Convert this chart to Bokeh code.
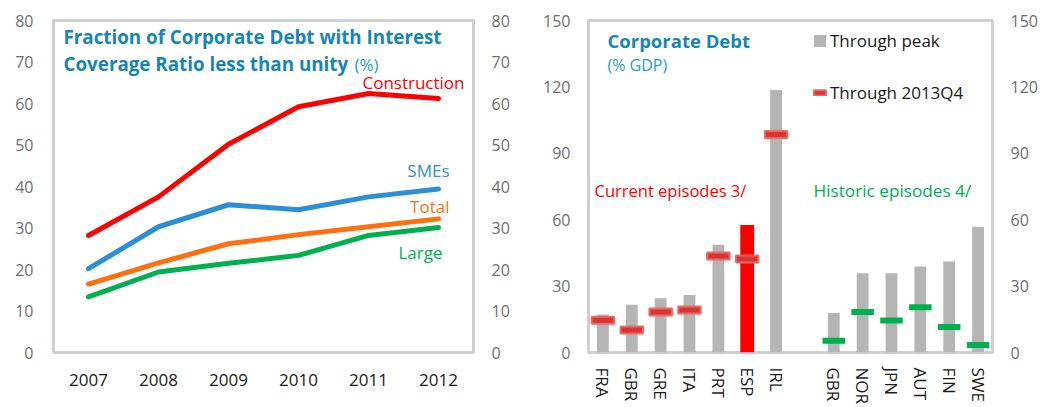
from bokeh.plotting import figure
from bokeh.models import (FactorRange, Range1d, LinearAxis, FixedTicker, Legend,
                          LegendItem, ColumnDataSource)
from bokeh.layouts import row
from bokeh.embed import file_html
from bokeh.resources import INLINE
from bokeh.core.properties import value

# ---------------- data ----------------
years = ["2007", "2008", "2009", "2010", "2011", "2012"]
construction = [28.2, 37.5, 50.2, 59.2, 62.4, 61.2]
smes = [20.2, 30.3, 35.6, 34.4, 37.5, 39.4]
total = [16.5, 21.6, 26.2, 28.4, 30.3, 32.2]
large = [13.4, 19.4, 21.5, 23.4, 28.2, 30.1]

current_countries = ["FRA", "GBR", "GRE", "ITA", "PRT", "ESP", "IRL"]
current_peak = [17.2, 21.6, 24.5, 26.0, 48.7, 57.6, 118.6]
current_2013q4 = [14.6, 10.2, 18.3, 19.2, 43.6, 42.3, 98.5]
historic_countries = ["GBR", "NOR", "JPN", "AUT", "FIN", "SWE"]
historic_peak = [17.9, 35.8, 35.8, 38.8, 41.1, 56.8]
historic_end = [5.3, 18.3, 14.5, 20.4, 11.5, 3.4]
highlight = "ESP"

FONT = "Open Sans"
TICK_GRAY = "#6f6f6f"
TEAL = "#1586b5"
TEAL_LIGHT = "#2a9bd3"
RED = "#ff0000"
BLUE = "#2b8fd8"
ORANGE = "#ff6f0f"
GREEN = "#00b04f"
H = 407


def style_axis(ax, size="16px", color=TICK_GRAY, standoff=18):
    ax.axis_line_color = None
    ax.major_tick_line_color = None
    ax.minor_tick_line_color = None
    ax.major_tick_in = 0
    ax.major_tick_out = 0
    ax.minor_tick_in = 0
    ax.minor_tick_out = 0
    ax.major_label_text_font = FONT
    ax.major_label_text_font_size = size
    ax.major_label_text_color = color
    ax.major_label_standoff = standoff


# ---------------- left chart ----------------
p1 = figure(width=530, height=H, x_range=FactorRange(factors=years),
            y_range=Range1d(0, 80), output_backend="svg", toolbar_location=None,
            min_border_left=53, min_border_right=57, min_border_top=16,
            min_border_bottom=H - 16 - 336)
p1.outline_line_color = "#cfcfcf"
p1.outline_line_width = 3
p1.xgrid.grid_line_color = None
p1.ygrid.grid_line_color = None
p1.yaxis.ticker = FixedTicker(ticks=list(range(0, 81, 10)))
style_axis(p1.yaxis[0], standoff=20)
style_axis(p1.xaxis[0], size="17px", color="#1a1a1a", standoff=21)
r_ax1 = LinearAxis(ticker=FixedTicker(ticks=list(range(0, 81, 10))))
style_axis(r_ax1, standoff=18)
p1.add_layout(r_ax1, "right")

for vals, col in [(construction, RED), (smes, BLUE), (total, ORANGE), (large, GREEN)]:
    p1.line(years, vals, line_width=5, line_color=col, line_cap="round", line_join="round")

series_labels = [("Construction", RED, 65.0, 26), ("SMEs", BLUE, 43.9, 11),
                 ("Total", ORANGE, 35.3, 11), ("Large", GREEN, 24.1, 4)]
for txt, col, yy, xo in series_labels:
    p1.text(x=[years[-1]], y=[yy], text=[txt], x_offset=xo, text_align="right",
            text_baseline="middle", text_color=col, text_font=value(FONT),
            text_font_size="17px")

p1.text(x=[years[0]], y=[76.1], text=["Fraction of Corporate Debt with Interest"],
        x_offset=-25, text_baseline="middle", text_color=TEAL, text_font=value(FONT),
        text_font_size="18.8px", text_font_style="bold")
p1.text(x=[years[0]], y=[69.4], text=["Coverage Ratio less than unity"],
        x_offset=-25, text_baseline="middle", text_color=TEAL, text_font=value(FONT),
        text_font_size="18.8px", text_font_style="bold")
p1.text(x=[years[0]], y=[69.4], text=["(%)"],
        x_offset=266, text_baseline="middle", text_color=TEAL_LIGHT, text_font=value(FONT),
        text_font_size="17px")

# ---------------- right chart ----------------
cur_pos = list(range(len(current_countries)))
his_pos = [len(current_countries) + 1 + i for i in range(len(historic_countries))]
n_slots = len(current_countries) + 1 + len(historic_countries)

p2 = figure(width=510, height=H, x_range=Range1d(-0.5, n_slots - 0.5),
            y_range=Range1d(0, 150), output_backend="svg", toolbar_location=None,
            min_border_left=58, min_border_right=45, min_border_top=20,
            min_border_bottom=H - 20 - 338)
p2.outline_line_color = "#cfcfcf"
p2.outline_line_width = 3
p2.xgrid.grid_line_color = None
p2.ygrid.grid_line_color = None
p2.yaxis.ticker = FixedTicker(ticks=list(range(0, 151, 30)))
style_axis(p2.yaxis[0], standoff=18)
r_ax2 = LinearAxis(ticker=FixedTicker(ticks=list(range(0, 151, 30))))
style_axis(r_ax2, standoff=18)
p2.add_layout(r_ax2, "right")

p2.xaxis.ticker = FixedTicker(ticks=cur_pos + his_pos)
p2.xaxis.major_label_overrides = {p: c for p, c in zip(cur_pos + his_pos,
                                                       current_countries + historic_countries)}
style_axis(p2.xaxis[0], size="17px", color="#1a1a1a", standoff=15)
p2.xaxis.major_label_orientation = "vertical"

all_names = current_countries + historic_countries
bar_src = ColumnDataSource(dict(
    x=cur_pos + his_pos,
    top=current_peak + historic_peak,
    color=[RED if n == highlight and i < len(current_countries) else "#b5b5b5"
           for i, n in enumerate(all_names)],
    w=[0.48 if n == highlight and i < len(current_countries) else 0.41
       for i, n in enumerate(all_names)],
))
bars = p2.vbar(x="x", top="top", width="w", source=bar_src, fill_color="color",
               line_color=None)

red_dash = p2.rect(x=cur_pos, y=current_2013q4, width=0.78, height=7,
                   height_units="screen", fill_color="#d93434", line_color="#ea6a66",
                   line_width=2)
p2.rect(x=his_pos, y=historic_end, width=0.78, height=6, height_units="screen",
        fill_color=GREEN, line_color=None)

p2.text(x=[-0.5], y=[141], text=["Corporate Debt"], x_offset=19, text_baseline="middle",
        text_color=TEAL, text_font=value(FONT), text_font_size="18.5px",
        text_font_style="bold")
p2.text(x=[-0.5], y=[130], text=["(% GDP)"], x_offset=19, text_baseline="middle",
        text_color=TEAL_LIGHT, text_font=value(FONT), text_font_size="16px")
p2.text(x=[-0.5], y=[73.2], text=["Current episodes 3/"], x_offset=6,
        text_baseline="middle", text_color=RED, text_font=value(FONT),
        text_font_size="16.5px")
p2.text(x=[-0.5], y=[73.2], text=["Historic episodes 4/"], x_offset=225,
        text_baseline="middle", text_color="#00b050", text_font=value(FONT),
        text_font_size="17.2px")

leg1 = Legend(items=[LegendItem(label="Through peak", renderers=[bars], index=0)],
              location=(224, 300), glyph_width=15, glyph_height=15, padding=0,
              margin=0, label_standoff=3, border_line_color=None,
              background_fill_alpha=0, label_text_font=FONT,
              label_text_font_size="17px", label_text_color="#1a1a1a")
leg2 = Legend(items=[LegendItem(label="Through 2013Q4", renderers=[red_dash], index=0)],
              location=(224, 248), glyph_width=15, glyph_height=7, padding=0,
              margin=0, label_standoff=3, border_line_color=None,
              background_fill_alpha=0, label_text_font=FONT,
              label_text_font_size="17px", label_text_color="#1a1a1a")
p2.add_layout(leg1, "center")
p2.add_layout(leg2, "center")

layout = row(p1, p2)
open("out.html", "w").write(file_html(layout, INLINE))
